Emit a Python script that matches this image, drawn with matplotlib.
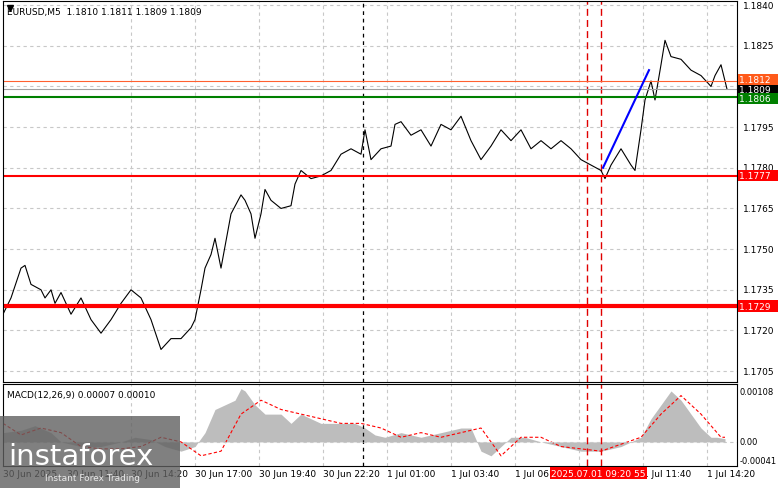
import numpy as np
import matplotlib as mpl
mpl.use('Agg')
import matplotlib.pyplot as plt

# 5-minute bar index and close price
bars = [0, 4, 9, 11, 14, 19, 21, 24, 26, 29, 34, 39, 44, 49, 54, 59, 64, 69, 74, 79,
        84, 89, 94, 96, 99, 101, 104, 106, 109, 114, 119, 121, 124, 126, 129, 131, 134, 139, 144, 146,
        149, 154, 159, 164, 169, 174, 179, 181, 184, 189, 194, 196, 199, 204, 209, 214, 219, 224, 229, 234,
        239, 244, 249, 254, 259, 264, 269, 274, 279, 284, 289, 294, 299, 301, 304, 309, 314, 316, 319, 321,
        324, 326, 329, 331, 334, 339, 344, 349, 354, 356, 359, 362]
close = [1.1726, 1.1732, 1.1743, 1.1744, 1.1737, 1.1735, 1.1732, 1.1735, 1.1730, 1.1734, 1.1726, 1.1732,
         1.1724, 1.1719, 1.1724, 1.1730, 1.1735, 1.1732, 1.1724, 1.1713, 1.1717, 1.1717, 1.1721, 1.1724,
         1.1735, 1.1743, 1.1748, 1.1754, 1.1743, 1.1763, 1.1770, 1.1768, 1.1763, 1.1754, 1.1763, 1.1772,
         1.1768, 1.1765, 1.1766, 1.1774, 1.1779, 1.1776, 1.1777, 1.1779, 1.1785, 1.1787, 1.1785, 1.1794,
         1.1783, 1.1787, 1.1788, 1.1796, 1.1797, 1.1792, 1.1794, 1.1788, 1.1796, 1.1794, 1.1799, 1.1790,
         1.1783, 1.1788, 1.1794, 1.1790, 1.1794, 1.1787, 1.1790, 1.1787, 1.1790, 1.1787, 1.1783, 1.1781,
         1.1779, 1.1776, 1.1781, 1.1787, 1.1781, 1.1779, 1.1794, 1.1805, 1.1812, 1.1805, 1.1818, 1.1827,
         1.1821, 1.1820, 1.1816, 1.1814, 1.1810, 1.1814, 1.1818, 1.1809]

# MACD histogram and signal
macd_bars = [0, 9, 16, 24, 29, 34, 39, 49, 59, 66, 74, 81, 89, 96, 101, 106, 111, 116, 119, 121, 126,
             131, 139, 144, 149, 154, 159, 164, 171, 176, 181, 186, 191, 199, 209, 219, 229, 234, 239, 244,
             249, 254, 261, 269, 279, 289, 299, 309, 319, 324, 329, 334, 339, 344, 349, 354, 357, 361]
macd_hist = [0.00020, 0.00025, 0.00035, 0.00020, 0.0, -0.00005, -0.00010, -0.00010, 0.0, 0.00010,
             0.00005, -0.00010, -0.00020, -0.00010, 0.00020, 0.00070, 0.00080, 0.00090, 0.00115, 0.00110,
             0.00080, 0.00060, 0.00060, 0.00040, 0.00060, 0.00050, 0.00040, 0.00040, 0.00040, 0.00040,
             0.00030, 0.00015, 0.00010, 0.00020, 0.00010, 0.00020, 0.00030, 0.00030, -0.00020, -0.00030,
             -0.00010, 0.00010, 0.00010, 0.0, -0.00010, -0.00020, -0.00020, -0.00010, 0.00010, 0.00050,
             0.00080, 0.00110, 0.00090, 0.00060, 0.00030, 0.00010, 0.00010, 0.00007]
sig_bars = [0, 9, 19, 29, 39, 49, 59, 69, 79, 89, 99, 109, 119, 129, 139, 149, 159, 169, 179, 189, 199,
            209, 219, 229, 239, 249, 259, 269, 279, 289, 299, 309, 319, 329, 339, 349, 359, 361]
sig_vals = [0.00040, 0.00015, 0.00030, 0.00020, -0.00010, -0.00015, -0.00015, -0.00010, 0.00010, 0.0,
            -0.00030, -0.00020, 0.00060, 0.00090, 0.00070, 0.00060, 0.00050, 0.00040, 0.00040, 0.00030,
            0.00010, 0.00020, 0.00010, 0.00020, 0.00030, -0.00030, 0.00010, 0.00010, -0.00010, -0.00015,
            -0.00020, -0.00005, 0.00010, 0.00060, 0.00100, 0.00060, 0.00010, 0.00010]

time_labels = ['30 Jun 2025', '30 Jun 11:40', '30 Jun 14:20', '30 Jun 17:00', '30 Jun 19:40',
               '30 Jun 22:20', '1 Jul 01:00', '1 Jul 03:40', '1 Jul 06:20', '1 Jul 09:00',
               '1 Jul 11:40', '1 Jul 14:20']
time_bars = [0, 32, 64, 96, 128, 160, 192, 224, 256, 288, 320, 352]
price_ticks = [1.1705, 1.1720, 1.1735, 1.1750, 1.1765, 1.1780, 1.1795, 1.1810, 1.1825, 1.1840]

fig = plt.figure(figsize=(7.81, 4.89), dpi=100)
W, H = 781, 489
ax = fig.add_axes([3/W, 1-383/H, 734/W, 381/H])
am = fig.add_axes([3/W, 1-467/H, 734/W, 82/H])
xl = (0, 367)
for a in (ax, am):
    a.set_xlim(xl)
    a.set_xticks([])
    a.set_yticks([])
    for b in time_bars:
        a.axvline(b + 64, color='#c8c8c8', ls=(0, (3, 3)), lw=0.8, zorder=0)
    a.axvline(180, color='black', ls=(0, (3, 3)), lw=0.9)
    a.axvline(292, color='#e00000', ls=(0, (5, 3)), lw=1)
    a.axvline(299, color='#e00000', ls=(0, (5, 3)), lw=1)
    for s in a.spines.values():
        s.set_linewidth(0.8)

ymin, ymax = 1.1701, 1.18415
ax.set_ylim(ymin, ymax)
for p in price_ticks:
    ax.axhline(p, color='#c8c8c8', ls=(0, (3, 3)), lw=0.8, zorder=0)
    if p == 1.1810:
        continue
    ax.text(1.008, (p-ymin)/(ymax-ymin), '%.4f' % p, transform=ax.transAxes, fontsize=6.5, va='center')
ax.plot(bars, close, color='black', lw=0.8)
ax.axhline(1.1729, color='red', lw=3)
ax.axhline(1.1777, color='red', lw=1.5)
ax.axhline(1.1806, color='green', lw=1.5)
ax.axhline(1.1812, color='#ff6030', lw=0.8)
ax.axhline(1.1809, color='#a0a0a0', lw=0.8)
ax.plot([300, 323], [1.1780, 1.1816], color='blue', lw=1.5)
# price boxes (black one drawn first so the others sit on top)
for p, yo, c in [(1.1809, 1.1809, 'black'), (1.1812, 1.18125, '#ff5a1a'), (1.1806, 1.18055, 'green'),
                 (1.1777, 1.1777, 'red'), (1.1729, 1.1729, 'red')]:
    ax.text(1.003, (yo-ymin)/(ymax-ymin), '%.4f  ' % p, transform=ax.transAxes, fontsize=6.5,
            va='center', color='white', bbox=dict(boxstyle='square,pad=0.12', fc=c, ec='none'))
ax.text(0.005, 0.985, 'EURUSD,M5  1.1810 1.1811 1.1809 1.1809', transform=ax.transAxes,
        fontsize=6.5, va='top')
ax.plot(0.009, 0.982, marker='v', color='black', ms=4, transform=ax.transAxes)

mmin, mmax = -0.00052, 0.00125
am.set_ylim(mmin, mmax)
am.fill_between(macd_bars, 0, macd_hist, color='#bdbdbd', lw=0)
am.plot(sig_bars, sig_vals, color='red', ls=(0, (3, 2)), lw=0.8)
am.axhline(0, color='#c8c8c8', ls=(0, (3, 3)), lw=0.8)
for v, s in [(0.00108, '0.00108'), (0.0, '0.00'), (-0.00041, '-0.00041')]:
    am.text(1.004, (v-mmin)/(mmax-mmin), s, transform=am.transAxes, fontsize=6, va='center')
am.text(0.005, 0.93, 'MACD(12,26,9) 0.00007 0.00010', transform=am.transAxes, fontsize=6.5, va='top')

for b, t in zip(time_bars, time_labels):
    if t == '1 Jul 09:00':
        continue
    am.text(b, mmin - 0.00006, t, fontsize=6.5, va='top', ha='left')
am.text(274, mmin - 0.00006, '2025.07.01 09:20 55', fontsize=6.5, va='top', ha='left', color='white',
        bbox=dict(boxstyle='square,pad=0.15', fc='red', ec='none'))

# watermark
fig.patches.append(mpl.patches.Rectangle((0, 0), 180/W, 72/H, transform=fig.transFigure,
                                         fc='#606060', alpha=0.8, ec='none'))
fig.text(8/W, 32/H, 'instaforex', fontsize=21, color='white', va='center')
fig.text(45/W, 10/H, 'Instant Forex Trading', fontsize=6.5, color='#e8e8e8', va='center')

plt.savefig('out.png', dpi=100)
